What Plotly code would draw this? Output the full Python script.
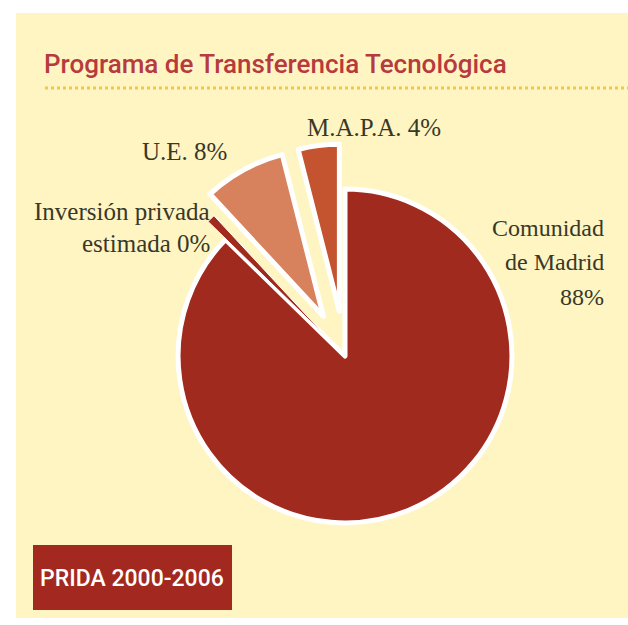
import plotly.graph_objects as go

# Programa de Transferencia Tecnológica - PRIDA 2000-2006
labels = ["Comunidad de Madrid", "Inversión privada estimada", "U.E.", "M.A.P.A."]
values = [88, 0.8, 8, 4]          # 0% slice drawn as a hairline in the original
shown_pct = ["88%", "0%", "8%", "4%"]
colors = ["#9f2a1d", "#9f2a1d", "#d7825c", "#c3542f"]
pulls = [0, 0.15, 0.27, 0.27]

W, H = 628, 625


def px(x):
    return x / W


def py(y):
    return 1 - y / H


fig = go.Figure()
fig.add_pie(
    labels=labels, values=values, sort=False, direction="clockwise", rotation=0,
    pull=pulls, textinfo="none", hoverinfo="label",
    marker=dict(colors=colors, line=dict(color="white", width=[5, 1, 5, 5])),
    domain=dict(x=[px(133), px(557)], y=[py(568), py(144)]),
    showlegend=False,
)

# text lines per slice: (x, anchor, font size, [(y, text), ...])
lab_lines = {
    0: (606, "right", 24, [(228, "Comunidad"), (262, "de Madrid"), (297, shown_pct[0])]),
    1: (212, "right", 25, [(212, "Inversión privada"), (243, "estimada " + shown_pct[1])]),
    2: (229, "right", 25, [(152, labels[2] + " " + shown_pct[2])]),
    3: (305, "left", 25, [(128, labels[3] + " " + shown_pct[3])]),
}
for i, (x, al, fs, lines) in lab_lines.items():
    for y, txt in lines:
        fig.add_annotation(
            x=px(x), y=py(y), xref="paper", yref="paper", text=txt, showarrow=False,
            xanchor=al, yanchor="middle", align=al,
            font=dict(family="Liberation Serif, DejaVu Serif, serif", size=fs, color="#393828"),
        )

# panel, title, dotted rule, footer box
fig.add_shape(type="rect", xref="paper", yref="paper", x0=px(16), x1=1.0,
              y0=py(618), y1=py(13), fillcolor="#fff5c3", line_width=0, layer="below")
fig.add_shape(type="line", xref="paper", yref="paper", x0=px(45), x1=1.0,
              y0=py(88), y1=py(88), line=dict(color="#f3c74a", width=3, dash="dot"))
fig.add_annotation(
    x=px(42), y=py(64), xref="paper", yref="paper", showarrow=False,
    xanchor="left", yanchor="middle",
    text="Programa de Transferencia Tecnológica",
    font=dict(family="Roboto, sans-serif", size=26, color="#b73a3e", weight=500),
)
fig.add_shape(type="rect", xref="paper", yref="paper", x0=px(33), x1=px(232),
              y0=py(610), y1=py(545), fillcolor="#a3281f", line_width=0)
fig.add_annotation(
    x=px(132), y=py(578), xref="paper", yref="paper", showarrow=False,
    xanchor="center", yanchor="middle", text="PRIDA 2000-2006",
    font=dict(family="Roboto, sans-serif", size=23, color="white", weight=500),
)

fig.update_layout(
    width=W, height=H, margin=dict(l=0, r=0, t=0, b=0),
    paper_bgcolor="white", plot_bgcolor="white",
)
fig.write_html("out.html", config={"displayModeBar": False},
               post_script="document.body.style.margin='0';")
